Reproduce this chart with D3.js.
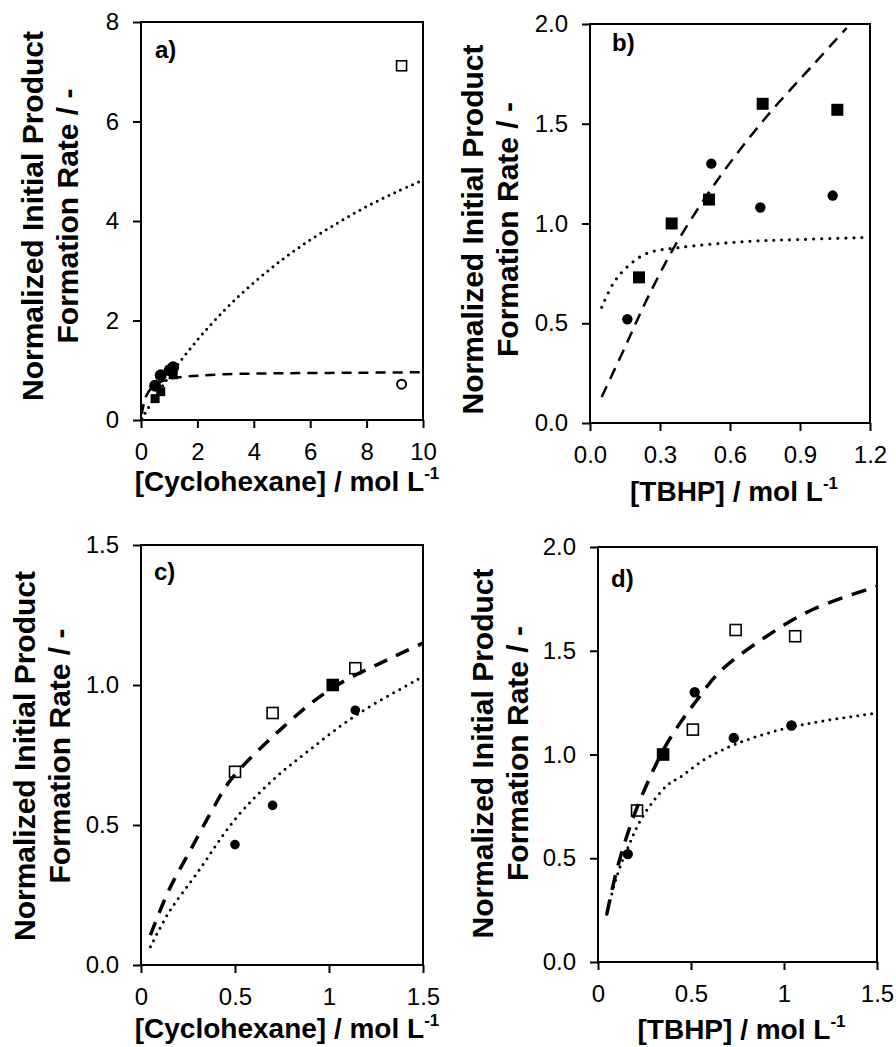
<!DOCTYPE html>
<html>
<head>
<meta charset="utf-8">
<script src="https://cdn.jsdelivr.net/npm/d3@7"></script>
<style>
  body { margin: 0; background: #fff; }
  svg text { font-family: Arial, "Liberation Sans", sans-serif; fill: #000; }
</style>
</head>
<body>
<div id="chart"></div>
<script>
// ---- data ----
// cyclohexane series (panels a and c)
const cycloX = [0.50, 0.70, 1.02, 1.14];
const cycloUpperY = [0.69, 0.90, 1.00, 1.06];   // squares in c, circles in a
const cycloLowerY = [0.43, 0.57, 1.00, 0.91];   // circles in c, squares in a
const cycloHighX = [9.24];
const cycloHighUpperY = [0.72];                 // open circle in a
const cycloHighLowerY = [7.12];                 // open square in a

// TBHP series (panels b and d)
const tbhpSquareX = [0.21, 0.35, 0.51, 0.74, 1.06];
const tbhpSquareY = [0.73, 1.00, 1.12, 1.60, 1.57];
const tbhpCircleX = [0.16, 0.35, 0.52, 0.73, 1.04];
const tbhpCircleY = [0.52, 1.00, 1.30, 1.08, 1.14];

// model curves, points
const curveADash = [[0.03,0.12],[0.1,0.33],[0.2,0.5],[0.35,0.63],[0.5,0.71],[0.75,0.78],[1.0,0.83],[1.5,0.87],[2,0.89],[3,0.92],[5,0.94],[7.5,0.95],[10,0.96]];
const curveADot = [[0.03,0.03],[0.5,0.46],[1,0.88],[2,1.61],[3,2.23],[4,2.76],[5,3.22],[6,3.62],[7,3.97],[8,4.29],[9,4.57],[10,4.82]];
const curveBDash = [[0.05,0.13],[0.15,0.38],[0.24,0.61],[0.37,0.90],[0.56,1.24],[0.76,1.54],[0.96,1.80],[1.10,1.98]];
const curveBDot = [[0.05,0.58],[0.1,0.70],[0.157,0.78],[0.243,0.85],[0.386,0.88],[0.67,0.91],[0.9,0.92],[1.18,0.93]];
const curveCDash = [[0.05,0.107],[0.15,0.27],[0.263,0.41],[0.376,0.55],[0.476,0.66],[0.724,0.83],[1.008,0.985],[1.31,1.09],[1.5,1.15]];
const curveCDot = [[0.05,0.065],[0.15,0.19],[0.3,0.33],[0.5,0.52],[0.7,0.66],[0.9,0.77],[1.15,0.895],[1.5,1.03]];
const curveDDash = [[0.047,0.23],[0.1,0.44],[0.16,0.62],[0.226,0.78],[0.35,1.02],[0.44,1.15],[0.53,1.26],[0.656,1.40],[0.907,1.57],[1.157,1.70],[1.5,1.81]];
const curveDDot = [[0.047,0.23],[0.1,0.41],[0.16,0.55],[0.24,0.70],[0.37,0.85],[0.44,0.89],[0.58,0.98],[0.74,1.05],[0.98,1.12],[1.2,1.16],[1.5,1.20]];

// tick values
const ticksAX = [0, 2, 4, 6, 8, 10];
const ticksAY = [0, 2, 4, 6, 8];
const ticksBX = [0, 0.3, 0.6, 0.9, 1.2];
const ticksBY = [0, 0.5, 1.0, 1.5, 2.0];
const ticksCX = [0, 0.5, 1, 1.5];
const ticksCY = [0, 0.5, 1.0, 1.5];
const ticksDX = [0, 0.5, 1, 1.5];
const ticksDY = [0, 0.5, 1.0, 1.5, 2.0];

const yTitle1 = "Normalized Initial Product";
const yTitle2 = "Formation Rate / -";

// ---- drawing ----
const svg = d3.select("#chart").append("svg")
    .attr("width", 896)
    .attr("height", 1047);

const dashStyles = {
    aDash: { w: 2.5, dash: "10,7", cap: "butt" },
    aDot:  { w: 3, dash: "0,6.5", cap: "round" },
    bDash: { w: 2.5, dash: "12,8", cap: "butt" },
    bDot:  { w: 3.2, dash: "0,8", cap: "round" },
    cDash: { w: 3.5, dash: "14,10", cap: "butt" },
    cDot:  { w: 3, dash: "0,7", cap: "round" },
    dDash: { w: 3.5, dash: "15,10", cap: "butt" },
    dDot:  { w: 3, dash: "0,7", cap: "round" }
};

const panels = [
    {
        id: "a", left: 141, top: 22, right: 423, bottom: 420,
        xDomain: [0, 10], yDomain: [0, 8], xTicks: ticksAX, yTicks: ticksAY,
        xFmt: d3.format("d"), yFmt: d3.format("d"),
        xName: "[Cyclohexane] / mol L", titleY: 491, titleDX: 5,
        yLabX: 43, yLabDY: -5, tag: [155, 58],
        curves: [[curveADot, "aDot"], [curveADash, "aDash"]],
        marks: [
            { xs: cycloX, ys: cycloLowerY, shape: "square", fill: true, size: 9 },
            { xs: cycloX, ys: cycloUpperY, shape: "circle", fill: true, size: 6 },
            { xs: cycloHighX, ys: cycloHighLowerY, shape: "square", fill: false, size: 10 },
            { xs: cycloHighX, ys: cycloHighUpperY, shape: "circle", fill: false, size: 5.5 }
        ]
    },
    {
        id: "b", left: 590, top: 24, right: 870, bottom: 423,
        xDomain: [0, 1.2], yDomain: [0, 2], xTicks: ticksBX, yTicks: ticksBY,
        xFmt: d3.format(".1f"), yFmt: d3.format(".1f"),
        xName: "[TBHP] / mol L", titleY: 501, titleDX: 4,
        yLabX: 483, yLabDY: 6, tag: [612, 51],
        curves: [[curveBDot, "bDot"], [curveBDash, "bDash"]],
        marks: [
            { xs: tbhpCircleX, ys: tbhpCircleY, shape: "circle", fill: true, size: 5.2 },
            { xs: tbhpSquareX, ys: tbhpSquareY, shape: "square", fill: true, size: 12 }
        ]
    },
    {
        id: "c", left: 141, top: 545, right: 423, bottom: 965,
        xDomain: [0, 1.5], yDomain: [0, 1.5], xTicks: ticksCX, yTicks: ticksCY,
        xFmt: d => String(d), yFmt: d3.format(".1f"),
        xName: "[Cyclohexane] / mol L", titleY: 1038, titleDX: 5,
        yLabX: 35, yLabDY: 1, tag: [154, 580],
        curves: [[curveCDot, "cDot"], [curveCDash, "cDash"]],
        marks: [
            { xs: cycloX, ys: cycloUpperY, shape: "square", fill: false, size: 11 },
            { xs: cycloX, ys: cycloLowerY, shape: "circle", fill: true, size: 4.8 }
        ]
    },
    {
        id: "d", left: 598, top: 547, right: 877, bottom: 962,
        xDomain: [0, 1.5], yDomain: [0, 2], xTicks: ticksDX, yTicks: ticksDY,
        xFmt: d => String(d), yFmt: d3.format(".1f"),
        xName: "[TBHP] / mol L", titleY: 1039, titleDX: 4,
        yLabX: 493, yLabDY: -1, tag: [611, 587],
        curves: [[curveDDot, "dDot"], [curveDDash, "dDash"]],
        marks: [
            { xs: tbhpCircleX, ys: tbhpCircleY, shape: "circle", fill: true, size: 5.2 },
            { xs: tbhpSquareX, ys: tbhpSquareY, shape: "square", fill: false, size: 11 }
        ]
    }
];

panels.forEach(p => {
    let w = p.right - p.left;
    let h = p.bottom - p.top;

    let x = d3.scaleLinear().domain(p.xDomain).range([0, w]);
    let y = d3.scaleLinear().domain(p.yDomain).range([h, 0]);

    let g = svg.append("g").attr("transform", "translate(" + p.left + "," + p.top + ")");

    // clip for the curves
    g.append("clipPath").attr("id", "clip-" + p.id)
        .append("rect").attr("width", w).attr("height", h);

    // axes
    let xAxis = g.append("g")
        .attr("transform", "translate(0," + h + ")")
        .call(d3.axisBottom(x).tickValues(p.xTicks).tickFormat(p.xFmt).tickSize(8).tickPadding(15).tickSizeOuter(0));
    let yAxis = g.append("g")
        .call(d3.axisLeft(y).tickValues(p.yTicks).tickFormat(p.yFmt).tickSize(8).tickPadding(14).tickSizeOuter(0));

    [xAxis, yAxis].forEach(a => {
        a.select(".domain").remove();
        a.selectAll("line").attr("stroke", "#000").attr("stroke-width", 2);
        a.selectAll("text").style("font-size", "24px").attr("fill", "#111");
    });

    // frame
    g.append("rect")
        .attr("width", w).attr("height", h)
        .attr("fill", "none").attr("stroke", "#000").attr("stroke-width", 2);

    // curves
    let line = d3.line().x(d => x(d[0])).y(d => y(d[1])).curve(d3.curveCatmullRom.alpha(0.5));
    p.curves.forEach(c => {
        let st = dashStyles[c[1]];
        g.append("path")
            .datum(c[0])
            .attr("clip-path", "url(#clip-" + p.id + ")")
            .attr("d", line)
            .attr("fill", "none")
            .attr("stroke", "#000")
            .attr("stroke-width", st.w)
            .attr("stroke-dasharray", st.dash)
            .attr("stroke-linecap", st.cap);
    });

    // markers
    p.marks.forEach(m => {
        let pts = m.xs.map((v, i) => [v, m.ys[i]]);
        if (m.shape === "circle") {
            g.selectAll(null).data(pts).enter().append("circle")
                .attr("cx", d => x(d[0]))
                .attr("cy", d => y(d[1]))
                .attr("r", m.fill ? m.size : m.size - 1)
                .attr("fill", m.fill ? "#000" : "#fff")
                .attr("stroke", "#000")
                .attr("stroke-width", m.fill ? 0 : 2);
        } else {
            let s = m.size;
            g.selectAll(null).data(pts).enter().append("rect")
                .attr("x", d => x(d[0]) - s / 2)
                .attr("y", d => y(d[1]) - s / 2)
                .attr("width", s)
                .attr("height", s)
                .attr("fill", d => (m.fill || d[1] === 1) ? "#000" : "none")
                .attr("stroke", "#000")
                .attr("stroke-width", m.fill ? 0 : 1.6);
        }
    });

    // panel tag
    svg.append("text")
        .attr("x", p.tag[0]).attr("y", p.tag[1])
        .style("font-size", "24px").style("font-weight", "bold")
        .text(p.id + ")");

    // x title with superscript
    let xt = svg.append("text")
        .attr("x", p.left + w / 2 + p.titleDX)
        .attr("y", p.titleY)
        .attr("text-anchor", "middle")
        .style("font-size", "28px").style("font-weight", "bold");
    xt.append("tspan").text(p.xName);
    xt.append("tspan").attr("dy", -12).style("font-size", "17px").text("-1");

    // y title, two lines
    let yc = p.top + h / 2 + p.yLabDY;
    let yt = svg.append("g").attr("transform", "translate(" + p.yLabX + "," + yc + ") rotate(-90)");
    yt.append("text").attr("text-anchor", "middle")
        .style("font-size", "30px").style("font-weight", "bold").text(yTitle1);
    yt.append("text").attr("text-anchor", "middle").attr("y", 35)
        .style("font-size", "30px").style("font-weight", "bold").text(yTitle2);
});
</script>
</body>
</html>
